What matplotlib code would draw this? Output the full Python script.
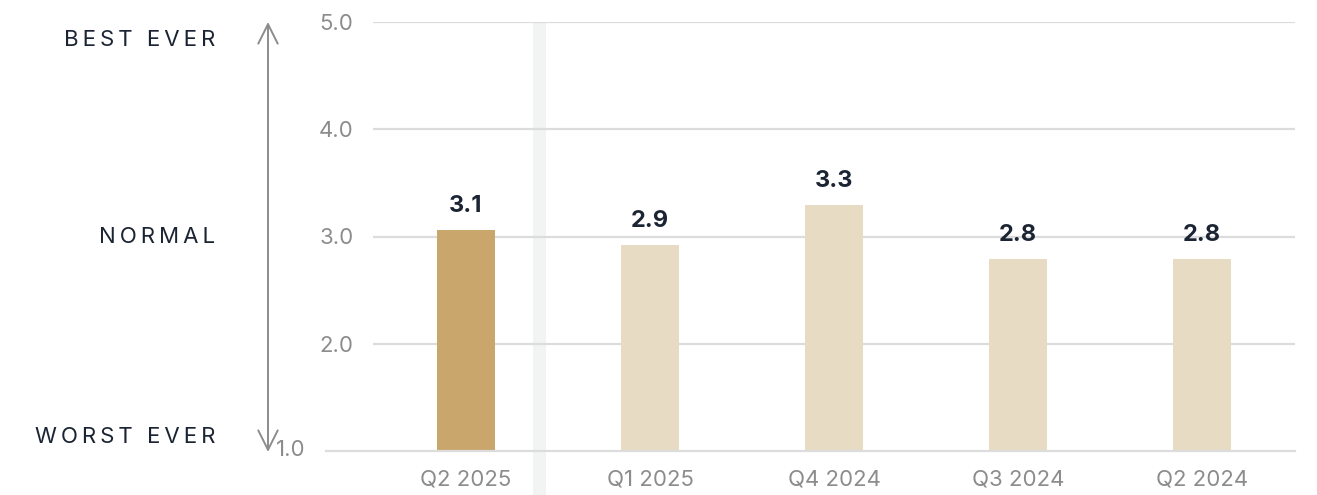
import matplotlib
matplotlib.use("Agg")
from matplotlib import pyplot as plt
from matplotlib.transforms import blended_transform_factory

# data
quarters = ["Q2 2025", "Q1 2025", "Q4 2024", "Q3 2024", "Q2 2024"]
scores = [3.06, 2.92, 3.29, 2.79, 2.79]
y_ticks = [1.0, 2.0, 3.0, 4.0, 5.0]
scale_labels = ["BEST EVER", "NORMAL", "WORST EVER"]

GOLD = "#c9a66b"
SAND = "#e8dbc3"
NAVY = "#1b2433"
GREY = "#8c8c8c"
GRID = "#dcdcdc"
BAND = "#f2f3f3"

plt.rcParams["font.family"] = ["Inter", "DejaVu Sans"]


def spaced(s):
    # fake letter-spacing with thin spaces
    return "\u2009".join(s)


W, H = 1317, 495
fig = plt.figure(figsize=(W / 100, H / 100), dpi=100)
ax = fig.add_axes([373 / W, 44 / H, 922 / W, 429 / H])

x = list(range(len(quarters)))
colors = [GOLD] + [SAND] * (len(quarters) - 1)
ax.bar(x, scores, width=0.315, bottom=0, color=colors, zorder=3)
ax.set_xlim(-0.505, len(quarters) - 0.495)
ax.set_ylim(1.0, 5.0)

# gridlines (the baseline runs further left)
for t in y_ticks[1:]:
    ax.axhline(t, color=GRID, lw=1.6, zorder=1)
ax.axhline(1.0, xmin=-0.051, xmax=1, color=GRID, lw=1.6, zorder=4, clip_on=False)

# light band separating the current quarter
trans = blended_transform_factory(ax.transData, ax.transAxes)
band = plt.Rectangle((0.365, -0.11), 0.07, 1.11, transform=trans,
                     color=BAND, zorder=0, clip_on=False, lw=0)
ax.add_patch(band)

for s in ax.spines.values():
    s.set_visible(False)

ax.set_xticks(x)
ax.set_xticklabels(quarters, color=GREY, fontsize=16)
ax.tick_params(axis="x", length=0, pad=13)

ax.set_yticks(y_ticks)
ax.set_yticklabels([""] + [f"{t:.1f}" for t in y_ticks[1:]],
                   color=GREY, fontsize=16)
ax.tick_params(axis="y", length=0, pad=14)
ytrans = blended_transform_factory(ax.transAxes, ax.transData)
ax.text(-0.073, y_ticks[0] + 0.01, f"{y_ticks[0]:.1f}", transform=ytrans,
        ha="right", va="center", color=GREY, fontsize=16)

for xi, v in zip(x, scores):
    ax.annotate(f"{v:.1f}", (xi, v), xytext=(0, 17.5), textcoords="offset points",
                ha="center", va="center", color=NAVY, fontsize=17, fontweight="bold")

# scale arrow and labels on the left
ax.annotate("", xy=(268 / W, 1 - 22 / H), xytext=(268 / W, 1 - 452 / H),
            xycoords="figure fraction", textcoords="figure fraction",
            arrowprops=dict(arrowstyle="<->,head_length=0.7,head_width=0.35",
                            mutation_scale=20, color=GREY, lw=1.4, shrinkA=0, shrinkB=0))
fig.text(215 / W, 1 - 40 / H, spaced(scale_labels[0]), ha="right", va="center",
         color=NAVY, fontsize=16)
fig.text(215 / W, 1 - 237 / H, spaced(scale_labels[1]), ha="right", va="center",
         color=NAVY, fontsize=16)
fig.text(215 / W, 1 - 437 / H, spaced(scale_labels[2]), ha="right", va="center",
         color=NAVY, fontsize=16)

fig.savefig("out.png", dpi=100)
